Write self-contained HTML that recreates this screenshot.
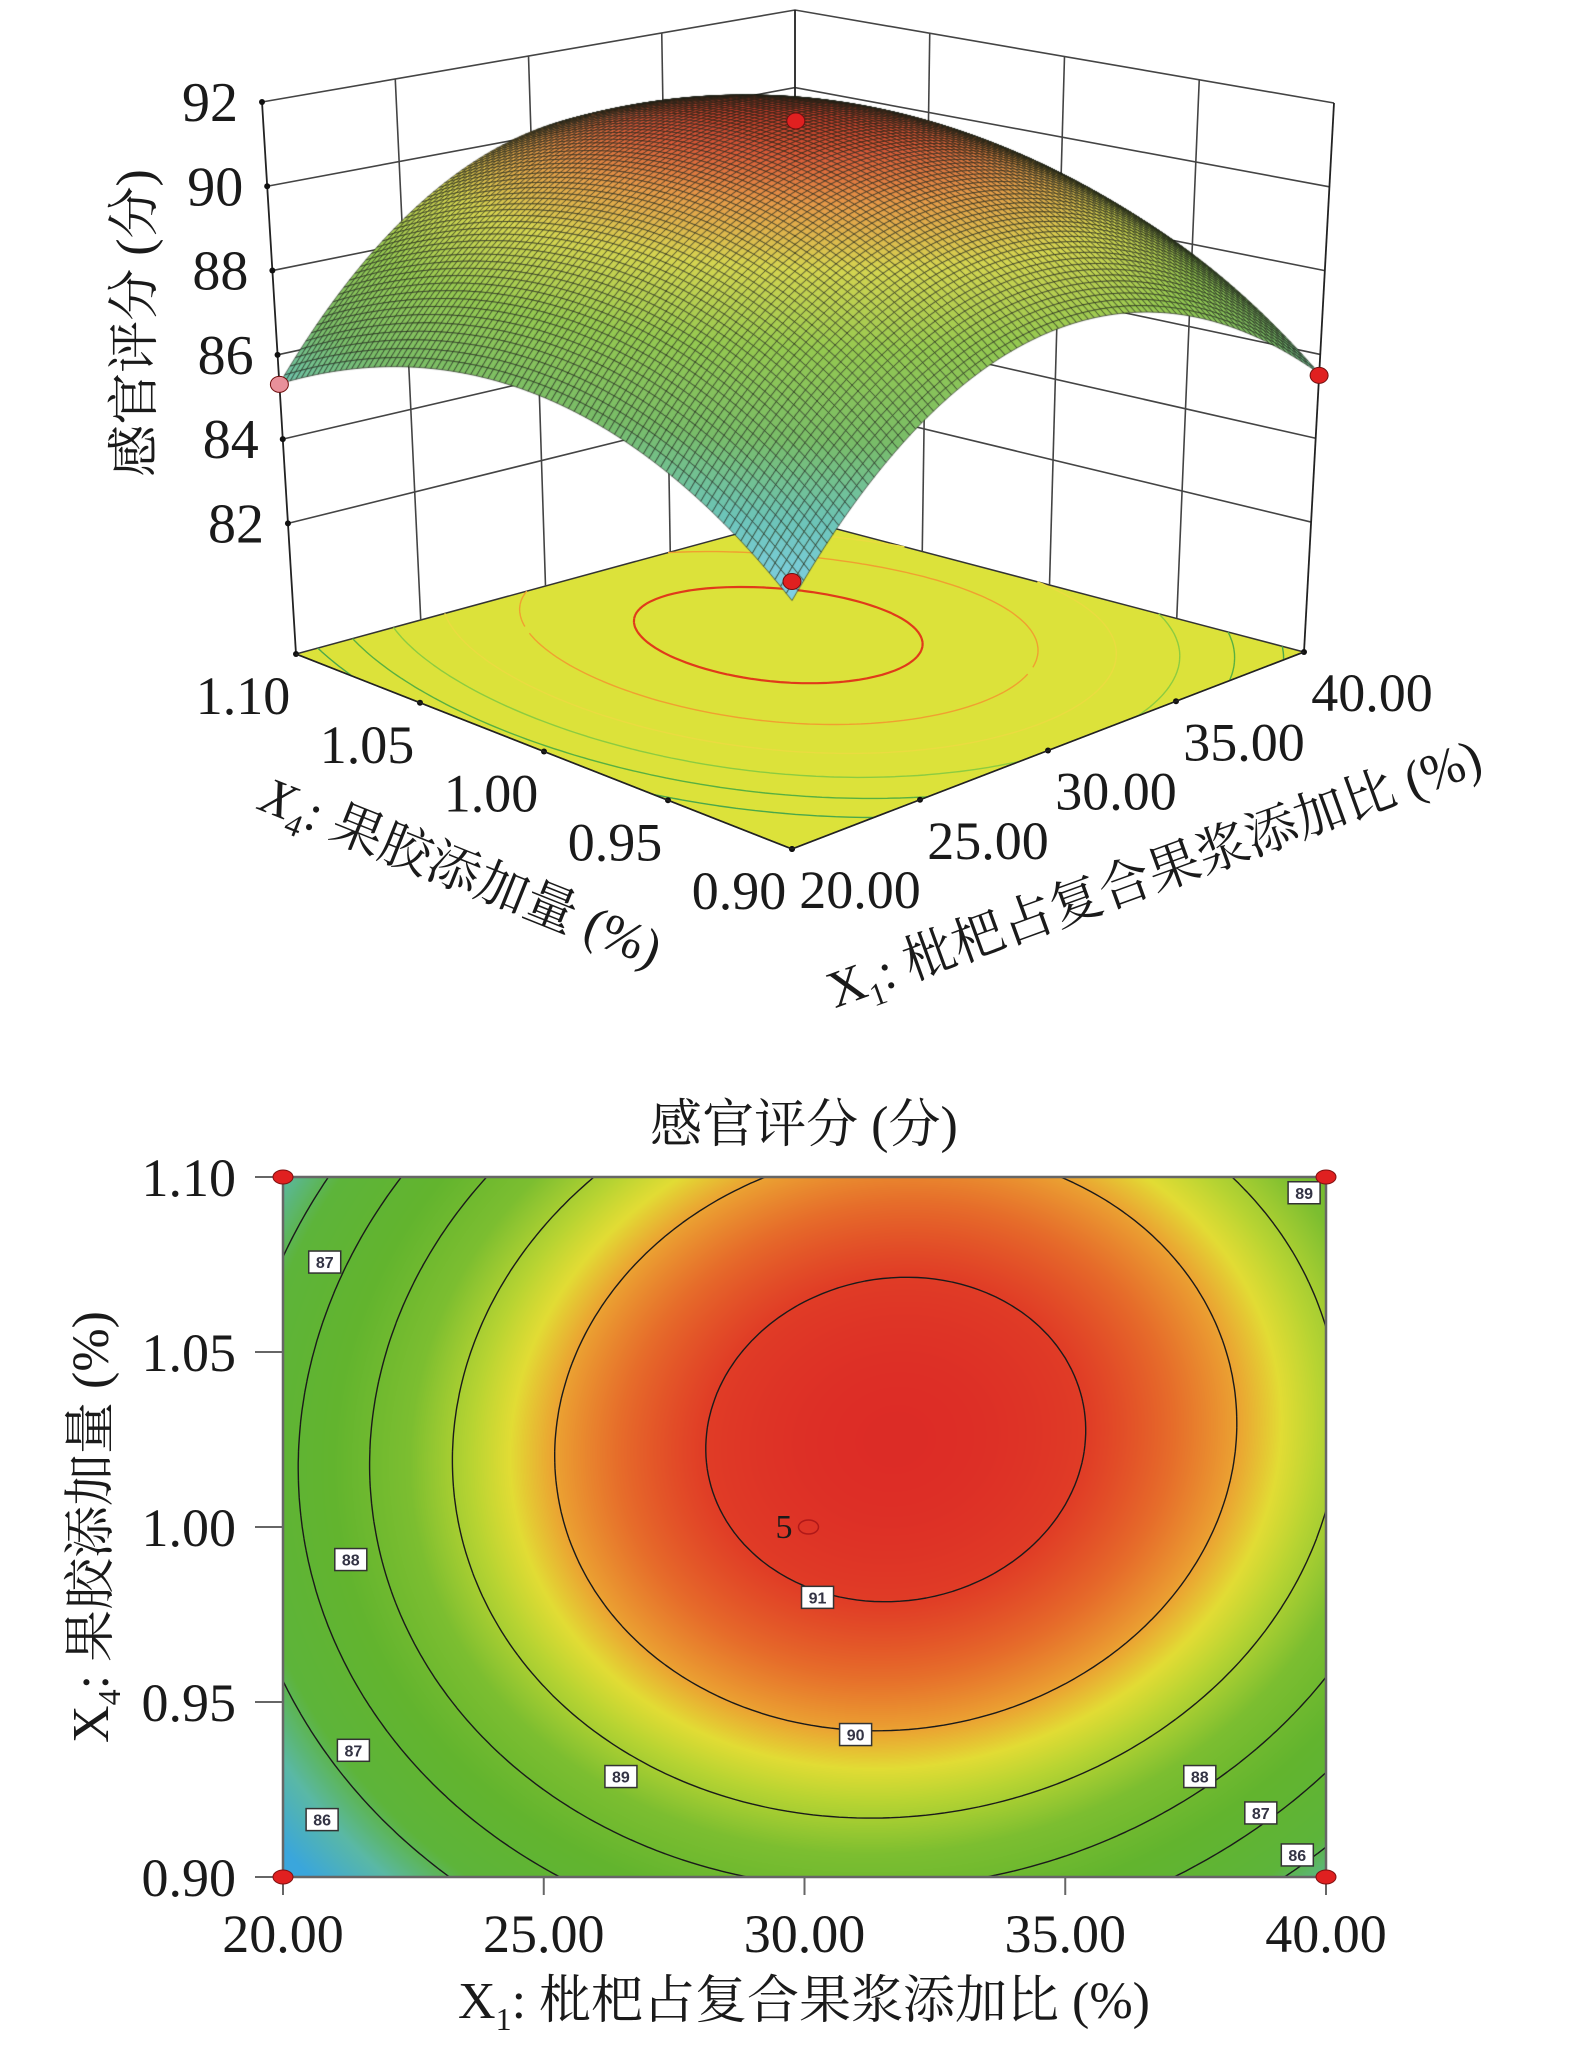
<!DOCTYPE html>
<html><head><meta charset="utf-8">
<style>
html,body{margin:0;padding:0;background:#fff;}
#root{position:relative;width:1575px;height:2051px;overflow:hidden;background:#fff;}
canvas,svg{position:absolute;left:0;top:0;}
text{font-family:"Liberation Serif","Noto Serif CJK SC","Noto Sans CJK SC",serif;fill:#1a1a1a;}
.lbl{font-family:"Liberation Sans",sans-serif;font-size:16px;font-weight:bold;fill:#334;}
</style></head>
<body>
<div id="root">
<canvas id="surf" width="1575" height="1100"></canvas>
<canvas id="heat" width="1575" height="2051"></canvas>
<svg id="svg" width="1575" height="2051" xmlns="http://www.w3.org/2000/svg"></svg>
</div>
<script>
// ---------- data ----------
const X1_TICKS = [20, 25, 30, 35, 40];
const X4_TICKS = [0.90, 0.95, 1.00, 1.05, 1.10];
const Z_TICKS = [82, 84, 86, 88, 90, 92];
const X1_TICK_LABELS = ["20.00", "25.00", "30.00", "35.00", "40.00"];
const X4_TICK_LABELS = ["0.90", "0.95", "1.00", "1.05", "1.10"];
const Z_TICK_LABELS = ["82", "84", "86", "88", "90", "92"];
// fitted response-surface model (centered form): peak, center x1, center x4, curvature x1, curvature x4, interaction
const MODEL_PEAK = [91.45];
const MODEL_CENTER = [31.75, 1.025];
const MODEL_CURV = [-3.4, -2.1, 0.3];
const CONTOUR_LEVELS = [86, 87, 88, 89, 90, 91];
const DESIGN_X1 = [20, 40, 20, 40, 30];
const DESIGN_X4 = [0.90, 0.90, 1.10, 1.10, 1.00];
const DESIGN_Y = [84.3, 85.5, 85.3, 88.5, 91.6];
const LABEL_X1 = [20.8, 21.3, 21.35, 20.75, 26.48, 30.98, 30.25, 37.58, 38.75, 39.45, 39.58];
const LABEL_X4 = [1.0757, 0.9907, 0.9362, 0.9164, 0.9287, 0.9407, 0.9799, 0.9287, 0.9183, 0.9063, 1.0955];
const LABEL_VAL = ["87", "88", "87", "86", "89", "90", "91", "88", "87", "86", "89"];

function model(x1, x4) {
  const u = (x1 - 30) / 10 - (MODEL_CENTER[0] - 30) / 10;
  const v = (x4 - 1) / 0.1 - (MODEL_CENTER[1] - 1) / 0.1;
  return MODEL_PEAK[0] + MODEL_CURV[0] * u * u + MODEL_CURV[1] * v * v + MODEL_CURV[2] * u * v;
}
function hex(c){return [parseInt(c.substr(1,2),16),parseInt(c.substr(3,2),16),parseInt(c.substr(5,2),16)];}
function ramp(stops, z){
  if (z <= stops[0][0]) return hex(stops[0][1]);
  for (let i=1;i<stops.length;i++){
    if (z <= stops[i][0]){
      const t=(z-stops[i-1][0])/(stops[i][0]-stops[i-1][0]);
      const a=hex(stops[i-1][1]), b=hex(stops[i][1]);
      return [a[0]+(b[0]-a[0])*t,a[1]+(b[1]-a[1])*t,a[2]+(b[2]-a[2])*t];
    }
  }
  return hex(stops[stops.length-1][1]);
}
const HEAT_STOPS=[[84.3,'#3aa6dc'],[85.3,'#5ab8a6'],[86.2,'#5db43a'],[87.5,'#62b42e'],[88.5,'#7cbe30'],[89.2,'#b8d432'],[89.6,'#e2dc34'],[90.0,'#eba232'],[90.5,'#e66c2a'],[91.0,'#e03c26'],[91.5,'#dc2a26']];
const SURF_STOPS=[[84.0,'#80d0e6'],[85.2,'#6cc4b8'],[86.5,'#78bc68'],[88.0,'#94c850'],[89.3,'#d4d450'],[90.3,'#e49a48'],[91.0,'#d85a38'],[91.6,'#b83024']];

const NS='http://www.w3.org/2000/svg';
const svg=document.getElementById('svg');
function mk(tag, attrs, parent){
  const e=document.createElementNS(NS,tag);
  for (const k in attrs) e.setAttribute(k, attrs[k]);
  (parent||svg).appendChild(e); return e;
}

// ---------- marching squares ----------
function contourSegs(level, N, fn){
  const segs=[];
  const val=[];
  for(let j=0;j<=N;j++){val.push([]);for(let i=0;i<=N;i++)val[j].push(fn(i/N,j/N));}
  function interp(p1,p2,v1,v2){const t=(level-v1)/(v2-v1);return [p1[0]+(p2[0]-p1[0])*t,p1[1]+(p2[1]-p1[1])*t];}
  for(let j=0;j<N;j++)for(let i=0;i<N;i++){
    const p=[[i/N,j/N],[(i+1)/N,j/N],[(i+1)/N,(j+1)/N],[i/N,(j+1)/N]];
    const v=[val[j][i],val[j][i+1],val[j+1][i+1],val[j+1][i]];
    const pts=[];
    for(let k=0;k<4;k++){const k2=(k+1)%4;
      if((v[k]-level)*(v[k2]-level)<0) pts.push(interp(p[k],p[k2],v[k],v[k2]));}
    if(pts.length===2) segs.push(pts);
    else if(pts.length===4){segs.push([pts[0],pts[1]]);segs.push([pts[2],pts[3]]);}
  }
  return segs;
}

// ================= 3D SURFACE =================
const A=[296,654], B=[792,849], C=[1304,652], D=[795,518];
const TA=[262,102], TB=[792,200], TC=[1334,103], TD=[795,10];
const ZMIN=78.9, ZMAX=92;
function bil(P00,P10,P01,P11,a,b){
  return [(1-a)*(1-b)*P00[0]+a*(1-b)*P10[0]+(1-a)*b*P01[0]+a*b*P11[0],
          (1-a)*(1-b)*P00[1]+a*(1-b)*P10[1]+(1-a)*b*P01[1]+a*b*P11[1]];
}
function proj(a,b,w){
  const f=bil(B,C,A,D,a,b), t=bil(TB,TC,TA,TD,a,b);
  return [f[0]+(t[0]-f[0])*w, f[1]+(t[1]-f[1])*w];
}
const x1a=x=>(x-20)/20, x4b=x=>(x-0.9)/0.2, zw=z=>(z-ZMIN)/(ZMAX-ZMIN);
function line(p,q,attrs,name){const l=mk('line',Object.assign({x1:p[0],y1:p[1],x2:q[0],y2:q[1]},attrs));
  
  return l;}

const bg=document.createElementNS(NS,'svg');
bg.setAttribute('width','1575');bg.setAttribute('height','1100');
bg.setAttribute('style','position:absolute;left:0;top:0');


document.getElementById('root').insertBefore(bg, document.getElementById('surf'));
function mkb(tag,attrs){return mk(tag,attrs,bg);}
const floor=mkb('polygon',{points:[A,B,C,D].map(p=>p.join(',')).join(' '),fill:'#dce23a',stroke:'#333','stroke-width':1.5});


const FLOOR_COLORS=['#4aa84a','#58b040','#8ccc40','#eadc40','#f0a030','#e03a1a'];
CONTOUR_LEVELS.forEach((lv,k)=>{
  const segs=contourSegs(lv,80,(a,b)=>model(20+a*20,0.9+b*0.2));
  let d='';segs.forEach(s=>{const p=proj(s[0][0],s[0][1],0),q=proj(s[1][0],s[1][1],0);d+='M'+p[0].toFixed(1)+' '+p[1].toFixed(1)+'L'+q[0].toFixed(1)+' '+q[1].toFixed(1);});
  const pth=mkb('path',{d:d,fill:'none',stroke:FLOOR_COLORS[k],'stroke-width':k===5?2.2:1.4});
  
  
});
Z_TICKS.forEach(z=>{
  const w=zw(z);
  const p=proj(0,1,w),q=proj(1,1,w),r=proj(1,0,w);
  const pl=mkb('polyline',{points:[p,q,r].map(s=>s.join(',')).join(' '),fill:'none',stroke:'#444','stroke-width':1.6});
  
  
});
X1_TICKS.slice(1,4).forEach(x=>{const a=x1a(x);const p=proj(a,1,0),q=proj(a,1,1);
  const l=mkb('line',{x1:p[0],y1:p[1],x2:q[0],y2:q[1],stroke:'#444','stroke-width':1.6});
  
  });
X4_TICKS.slice(1,4).forEach(x=>{const b=x4b(x);const p=proj(1,b,0),q=proj(1,b,1);
  const l=mkb('line',{x1:p[0],y1:p[1],x2:q[0],y2:q[1],stroke:'#444','stroke-width':1.6});
  
  });
[[A,TA],[D,TD],[C,TC]].forEach(e=>{const l=mkb('line',{x1:e[0][0],y1:e[0][1],x2:e[1][0],y2:e[1][1],stroke:'#222','stroke-width':1.8});
  
  });

(function(){
  const cv=document.getElementById('surf').getContext('2d');
  const N=90;
  const quads=[];
  for(let i=0;i<N;i++)for(let j=0;j<N;j++)quads.push([i,j]);
  quads.sort((p,q)=>(q[0]+q[1])-(p[0]+p[1]));
  cv.lineWidth=0.9;
  cv.strokeStyle='rgba(25,30,20,0.7)';
  quads.forEach(([i,j])=>{
    const pts=[[i,j],[i+1,j],[i+1,j+1],[i,j+1]].map(([ii,jj])=>{
      const a=ii/N,b=jj/N;return proj(a,b,zw(model(20+a*20,0.9+b*0.2)));});
    const zc=model(20+(i+.5)/N*20,0.9+(j+.5)/N*0.2);
    const c=ramp(SURF_STOPS,zc);
    cv.fillStyle='rgb('+c.map(Math.round).join(',')+')';
    cv.beginPath();cv.moveTo(pts[0][0],pts[0][1]);for(let k=1;k<4;k++)cv.lineTo(pts[k][0],pts[k][1]);cv.closePath();
    cv.fill();cv.stroke();
  });
})();

Z_TICKS.forEach((z,k)=>{const p=proj(0,1,zw(z));
  mk('circle',{cx:p[0],cy:p[1],r:3,fill:'#111'});
  const t=mk('text',{x:p[0]-24,y:p[1]+19,'text-anchor':'end','font-size':56});
  t.textContent=Z_TICK_LABELS[k];
  
  });
X4_TICKS.forEach((x,k)=>{const p=proj(0,x4b(x),0);
  mk('circle',{cx:p[0],cy:p[1],r:3,fill:'#111'});
  const t=mk('text',{x:p[0]-53,y:p[1]+60,'text-anchor':'middle','font-size':54});
  t.textContent=X4_TICK_LABELS[k];
  
  });
X1_TICKS.forEach((x,k)=>{const p=proj(x1a(x),0,0);
  mk('circle',{cx:p[0],cy:p[1],r:3,fill:'#111'});
  const t=mk('text',{x:p[0]+68,y:p[1]+59,'text-anchor':'middle','font-size':54});
  t.textContent=X1_TICK_LABELS[k];
  
  });
line(A,B,{stroke:'#222','stroke-width':1.6},'floor-edge-x4');
line(B,C,{stroke:'#222','stroke-width':1.6},'floor-edge-x1');
DESIGN_X1.forEach((x,k)=>{
  if(k===3) return;
  const p=proj(x1a(x),x4b(DESIGN_X4[k]),zw(DESIGN_Y[k]));
  const e=mk('ellipse',{cx:p[0],cy:p[1],rx:9,ry:8,fill:k===2?'#e8909a':'#e02020',stroke:'#701010','stroke-width':1});
  
  
});
(function(){
  let t=mk('text',{x:0,y:0,'font-size':52,'text-anchor':'middle',transform:'translate(152,323) rotate(-90)'});
  t.textContent='感官评分 (分)';
  
  
  t=mk('text',{x:0,y:0,'font-size':52,'text-anchor':'middle',transform:'translate(455,888) rotate(21.8)'});
  t.innerHTML='<tspan font-style="italic">X</tspan><tspan font-size="32" dy="12">4</tspan><tspan dy="-12">: 果胶添加量 (%)</tspan>';
  
  
  t=mk('text',{x:0,y:0,'font-size':52,'text-anchor':'middle',transform:'translate(1160,890) rotate(-20)'});
  t.innerHTML='<tspan>X</tspan><tspan font-size="32" dy="12">1</tspan><tspan dy="-12">: 枇杷占复合果浆添加比 (%)</tspan>';
  
  
})();

// ================= CONTOUR PLOT =================
const L=283,R=1326,T=1177,Bt=1877;
const sx=x=>L+(x-20)/20*(R-L), sy=y=>Bt-(y-0.9)/0.2*(Bt-T);
(function(){
  const cv=document.getElementById('heat').getContext('2d');
  const w=R-L,h=Bt-T;
  const img=cv.createImageData(w,h);
  for(let py=0;py<h;py++)for(let px=0;px<w;px++){
    const x1=20+(px+.5)/w*20, x4=1.1-(py+.5)/h*0.2;
    const c=ramp(HEAT_STOPS,model(x1,x4));
    const o=(py*w+px)*4;img.data[o]=c[0];img.data[o+1]=c[1];img.data[o+2]=c[2];img.data[o+3]=255;
  }
  cv.putImageData(img,L,T);
})();
CONTOUR_LEVELS.forEach(lv=>{
  const segs=contourSegs(lv,120,(a,b)=>model(20+a*20,0.9+b*0.2));
  let d='';segs.forEach(s=>{d+='M'+sx(20+s[0][0]*20).toFixed(1)+' '+sy(0.9+s[0][1]*0.2).toFixed(1)+'L'+sx(20+s[1][0]*20).toFixed(1)+' '+sy(0.9+s[1][1]*0.2).toFixed(1);});
  const p=mk('path',{d:d,fill:'none',stroke:'#1a1a1a','stroke-width':1.4});
  
  
});
const frame=mk('rect',{x:L,y:T,width:R-L,height:Bt-T,fill:'none',stroke:'#666','stroke-width':2.5});


X1_TICKS.forEach((x,k)=>{
  mk('line',{x1:sx(x),y1:Bt,x2:sx(x),y2:Bt+18,stroke:'#666','stroke-width':2});
  const t=mk('text',{x:sx(x),y:1952,'text-anchor':'middle','font-size':54});
  t.textContent=X1_TICK_LABELS[k];
  
  
});
X4_TICKS.forEach((x,k)=>{
  mk('line',{x1:L-28,y1:sy(x),x2:L,y2:sy(x),stroke:'#666','stroke-width':2});
  const t=mk('text',{x:236,y:sy(x)+19,'text-anchor':'end','font-size':54});
  t.textContent=X4_TICK_LABELS[k];
  
  
});
LABEL_VAL.forEach((v,k)=>{
  const x=sx(LABEL_X1[k]),y=sy(LABEL_X4[k]);
  const r=mk('rect',{x:x-16,y:y-11,width:32,height:22,fill:'#fff',stroke:'#333','stroke-width':1.5});
  
  
  const t=mk('text',{x:x,y:y+6,'text-anchor':'middle',class:'lbl'});
  t.textContent=v;
  
  
});
DESIGN_X1.forEach((x,k)=>{
  if(k===4){
    const e=mk('ellipse',{cx:sx(x)+4,cy:sy(DESIGN_X4[k]),rx:10,ry:7,fill:'none',stroke:'#b01818','stroke-width':1.5});
    
    
    const t=mk('text',{x:sx(x)-12,y:sy(DESIGN_X4[k])+11,'text-anchor':'end','font-size':34});
    t.textContent='5';
    
    
    return;
  }
  const e=mk('ellipse',{cx:sx(x),cy:sy(DESIGN_X4[k]),rx:10,ry:7,fill:'#e02020',stroke:'#801010','stroke-width':1});
  
  
});
(function(){
  let t=mk('text',{x:804,y:1142,'text-anchor':'middle','font-size':52});
  t.textContent='感官评分 (分)';
  
  
  t=mk('text',{x:804,y:2018,'text-anchor':'middle','font-size':52});
  t.innerHTML='X<tspan font-size="32" dy="12">1</tspan><tspan dy="-12">: 枇杷占复合果浆添加比 (%)</tspan>';
  
  
  t=mk('text',{x:0,y:0,'text-anchor':'middle','font-size':52,transform:'translate(108,1527) rotate(-90)'});
  t.innerHTML='X<tspan font-size="32" dy="12">4</tspan><tspan dy="-12">: 果胶添加量 (%)</tspan>';
  
  
})();
</script>
</body></html>
